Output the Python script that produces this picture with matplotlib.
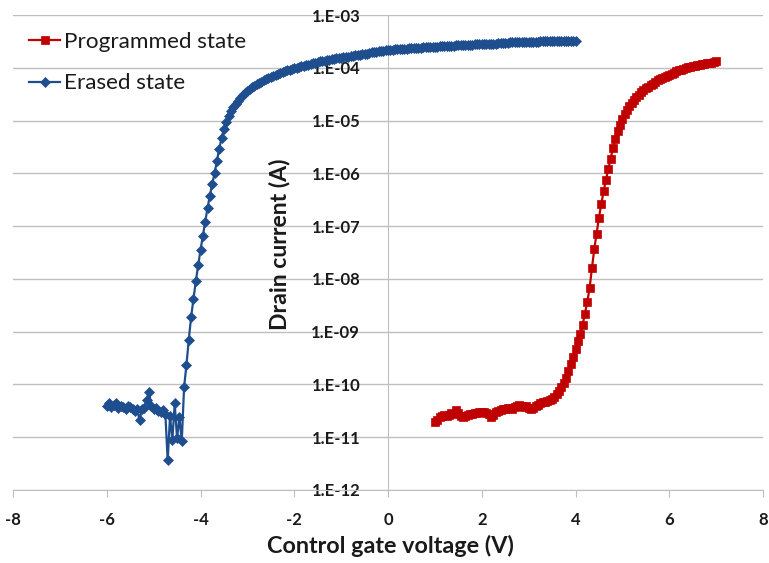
import numpy as np
import matplotlib
matplotlib.use("Agg")
import matplotlib.pyplot as plt
from matplotlib.ticker import FixedLocator, FixedFormatter

# ---------------- data (log10 of drain current, A) ----------------
erased_v_start, erased_v_stop, v_step = -6.0, 4.0, 0.05
erased_log_i = [
    -10.40, -10.36, -10.42, -10.38, -10.36, -10.44, -10.40, -10.42, -10.46, -10.40,
    -10.42, -10.46, -10.50, -10.47, -10.68, -10.46, -10.44, -10.30, -10.14, -10.40,
    -10.46, -10.44, -10.50, -10.52, -10.48, -10.56, -11.44, -10.60, -11.05, -10.36,
    -11.02, -10.62, -11.08, -10.05,
    -9.63, -9.15, -8.72, -8.38, -8.04, -7.74, -7.45, -7.18, -6.92, -6.66, -6.42, -6.20, -6.00,
    -5.76, -5.53, -5.33, -5.16, -5.02, -4.91, -4.82, -4.75, -4.68, -4.62,
    -4.57, -4.52, -4.48, -4.44, -4.40, -4.37, -4.34, -4.31, -4.28, -4.26,
    -4.23, -4.21, -4.19, -4.17, -4.15, -4.13, -4.11, -4.10, -4.08, -4.07,
    -4.05, -4.04, -4.02, -4.01,
    -4.00, -3.99, -3.97, -3.96, -3.95, -3.94, -3.92, -3.91, -3.90, -3.89,
    -3.88, -3.88, -3.87, -3.86, -3.85, -3.84, -3.83, -3.82, -3.82, -3.81,
    -3.80, -3.79, -3.79, -3.78, -3.77, -3.76, -3.76, -3.75, -3.74, -3.73,
    -3.73, -3.72, -3.71, -3.71, -3.70, -3.69, -3.69, -3.68, -3.67, -3.66,
    -3.66, -3.66, -3.65, -3.65, -3.65, -3.64, -3.64, -3.64, -3.63, -3.63,
    -3.63, -3.62, -3.62, -3.62, -3.61, -3.61, -3.61, -3.60, -3.60, -3.60,
    -3.60, -3.59, -3.59, -3.59, -3.58, -3.58, -3.58, -3.58, -3.57, -3.57,
    -3.57, -3.57, -3.56, -3.56, -3.56, -3.56, -3.55, -3.55, -3.55, -3.55,
    -3.55, -3.54, -3.54, -3.54, -3.54, -3.54, -3.53, -3.53, -3.53, -3.53,
    -3.53, -3.52, -3.52, -3.52, -3.52, -3.52, -3.52, -3.51, -3.51, -3.51,
    -3.51, -3.51, -3.51, -3.51, -3.50, -3.50, -3.50, -3.50, -3.50, -3.50,
    -3.50, -3.50, -3.49, -3.49, -3.49, -3.49, -3.49, -3.49, -3.49, -3.49,
]

programmed_v_start, programmed_v_stop = 1.0, 7.0
programmed_log_i = [
    -10.72, -10.68, -10.62, -10.60, -10.58, -10.60, -10.57, -10.55, -10.56, -10.48,
    -10.55, -10.60, -10.62, -10.60, -10.58, -10.56, -10.56, -10.55, -10.54, -10.53,
    -10.53, -10.52, -10.54, -10.56, -10.62, -10.58, -10.52, -10.50, -10.48, -10.47,
    -10.46, -10.45, -10.44, -10.46, -10.43, -10.40, -10.39, -10.40, -10.42, -10.41,
    -10.44, -10.46, -10.45, -10.40, -10.38, -10.36, -10.34, -10.33, -10.31, -10.29,
    -10.27, -10.24, -10.19, -10.12, -10.05, -9.97, -9.88, -9.75, -9.62, -9.48,
    -9.33, -9.18, -9.04, -8.88, -8.66, -8.44, -8.18, -7.80, -7.44, -7.14,
    -6.84, -6.58, -6.34, -6.12, -5.92, -5.72, -5.52, -5.35, -5.20, -5.08,
    -4.97, -4.88, -4.80, -4.73, -4.67, -4.61, -4.56, -4.51, -4.46, -4.42,
    -4.39, -4.36, -4.33, -4.30, -4.27, -4.24, -4.21, -4.19, -4.17, -4.15,
    -4.13, -4.11, -4.09, -4.07, -4.05, -4.04, -4.02, -4.01, -3.99, -3.98,
    -3.97, -3.96, -3.95, -3.94, -3.93, -3.92, -3.91, -3.90, -3.90, -3.89,
    -3.88,
]

x_ticks = [-8, -6, -4, -2, 0, 2, 4, 6, 8]
y_ticks = [1e-12, 1e-11, 1e-10, 1e-9, 1e-8, 1e-7, 1e-6, 1e-5, 1e-4, 1e-3]
y_tick_labels = ["1.E-12", "1.E-11", "1.E-10", "1.E-09", "1.E-08",
                 "1.E-07", "1.E-06", "1.E-05", "1.E-04", "1.E-03"]
series_names = ["Programmed state", "Erased state"]

# ---------------- figure ----------------
plt.rcParams['font.family'] = ['Lato', 'DejaVu Sans']

W, H = 769, 563
fig = plt.figure(figsize=(W / 100, H / 100), dpi=100)
ax = fig.add_axes([13 / W, (H - 490) / H, 750 / W, 475 / H])

blue = '#1F4E8E'
red = '#C00000'
grid_c = '#BFBFBF'
txt_c = '#1a1a1a'

n_e = len(erased_log_i)
v_e = np.linspace(erased_v_start, erased_v_stop, n_e)
n_p = len(programmed_log_i)
v_p = np.linspace(programmed_v_start, programmed_v_stop, n_p)

ax.plot(v_p, 10 ** np.array(programmed_log_i), color=red, lw=1.6,
        marker='s', ms=6.2, mec=red, mew=0.5, label=series_names[0], zorder=3)
ax.plot(v_e, 10 ** np.array(erased_log_i), color=blue, lw=1.6,
        marker='D', ms=5.3, mec=blue, mew=0.5, label=series_names[1], zorder=3)

ax.set_yscale('log')
ax.set_ylim(1e-12, 1e-3)
ax.set_xlim(-8, 8)

ax.yaxis.set_major_locator(FixedLocator(y_ticks))
ax.yaxis.set_major_formatter(FixedFormatter(y_tick_labels))
ax.yaxis.set_minor_locator(FixedLocator([]))
ax.set_xticks(x_ticks)
ax.set_xticklabels([str(t) for t in x_ticks])

ax.grid(axis='y', color=grid_c, lw=1.0, zorder=0)
ax.set_axisbelow(True)

for s in ['top', 'right']:
    ax.spines[s].set_visible(False)
ax.spines['left'].set_position(('data', 0))
ax.spines['left'].set_color(grid_c)
ax.spines['bottom'].set_color(grid_c)

ax.tick_params(axis='y', length=0, pad=20, labelsize=12, labelcolor=txt_c)
ax.tick_params(axis='x', length=5, color=grid_c, pad=11, labelsize=12, labelcolor=txt_c)
for lab in ax.get_yticklabels() + ax.get_xticklabels():
    lab.set_fontweight('bold')

fig.text(390 / W, 1 - 546 / H, "Control gate voltage (V)", ha='center', va='center',
         fontsize=16.8, fontweight='bold', color=txt_c)
fig.text(280 / W, 1 - 244 / H, "Drain current (A)", ha='center', va='center',
         rotation=90, fontsize=16.6, fontweight='bold', color=txt_c)

leg = ax.legend(loc='upper left', bbox_to_anchor=(29 / W, 1 - 32 / H),
                bbox_transform=fig.transFigure, frameon=False, fontsize=16.2,
                handlelength=1.4, handletextpad=0.15, labelspacing=0.95,
                borderaxespad=0, borderpad=0)
for t in leg.get_texts():
    t.set_color(txt_c)

fig.savefig('out.png', dpi=100)
